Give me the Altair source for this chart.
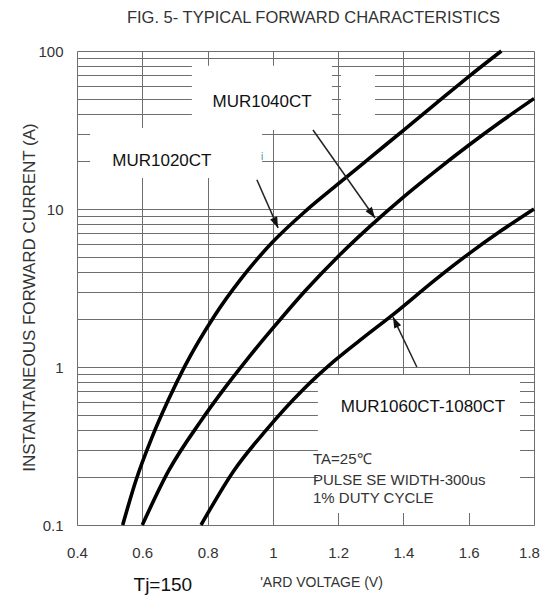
import math
import altair as alt
import pandas as pd

# ---------------- data ----------------
series_names = ["MUR1020CT", "MUR1040CT", "MUR1060CT-1080CT"]

v_1020 = [0.54, 0.58, 0.63, 0.68, 0.73, 0.82, 0.90, 1.00, 1.10, 1.20, 1.30, 1.40, 1.50, 1.60, 1.70]
i_1020 = [0.1, 0.19, 0.36, 0.62, 1.01, 2.09, 3.56, 6.2, 9.7, 14.4, 21.3, 31.5, 46.6, 68.9, 100]

v_1040 = [0.60, 0.68, 0.78, 0.85, 0.92, 1.00, 1.10, 1.20, 1.30, 1.40, 1.50, 1.60, 1.70, 1.80]
i_1040 = [0.1, 0.219, 0.457, 0.724, 1.11, 1.76, 3.05, 5.01, 7.85, 11.9, 17.5, 25.3, 35.9, 50]

v_1060 = [0.78, 0.88, 0.98, 1.09, 1.19, 1.28, 1.37, 1.50, 1.60, 1.70, 1.80]
i_1060 = [0.1, 0.22, 0.4, 0.71, 1.1, 1.55, 2.16, 3.6, 5.2, 7.3, 10]

x_ticks = [0.4, 0.6, 0.8, 1.0, 1.2, 1.4, 1.6, 1.8]
y_decades = [0.1, 1, 10, 100]

# label texts and anchor points (data units)
label_text = ["MUR1040CT", "MUR1020CT", "MUR1060CT-1080CT"]
label_v = [0.967, 0.66, 1.46]
label_i = [47.6, 20.1, 0.558]

note_text = ["TA=25\u2103", "PULSE SE WIDTH-300us", "1% DUTY CYCLE"]
note_v = [1.123, 1.123, 1.123]
note_i = [0.262, 0.193, 0.148]

# white label backgrounds (data units)
box_v1 = [0.752, 1.209, 0.44, 1.138]
box_v2 = [1.181, 1.313, 0.967, 1.757]
box_i1 = [80.6, 75.9, 32.6, 0.89]
box_i2 = [31.6, 37.7, 15.7, 0.119]

# arrows: start -> tip (data units)
arr_v1 = [0.951, 1.123, 1.441]
arr_i1 = [15.3, 31.6, 1.0]
arr_v2 = [1.016, 1.313, 1.368]
arr_i2 = [7.59, 8.77, 2.07]

tj_text = "Tj=150"
tj_v, tj_i = 0.663, 0.0415

title_text = "FIG. 5- TYPICAL FORWARD CHARACTERISTICS"
x_title = "'ARD VOLTAGE (V)"
y_title = "INSTANTANEOUS FORWARD CURRENT (A)"

# ---------------- build tables ----------------
rows = []
for name, vs, cs in zip(series_names, [v_1020, v_1040, v_1060], [i_1020, i_1040, i_1060]):
    for k, (v, c) in enumerate(zip(vs, cs)):
        rows.append({"series": name, "order": k, "V": v, "I": c})
curves = pd.DataFrame(rows)

W, H = 457, 474
XMIN, XMAX = 0.4, 1.8
YMIN, YMAX = 0.1, 100.0


def px(v):
    return (v - XMIN) / (XMAX - XMIN) * W


def py(c):
    return (math.log10(YMAX) - math.log10(c)) / (math.log10(YMAX) - math.log10(YMIN)) * H


arrows = pd.DataFrame({"v1": arr_v1, "i1": arr_i1, "v2": arr_v2, "i2": arr_i2})
arrows["ang"] = [
    (math.degrees(math.atan2(px(b) - px(a), -(py(d) - py(c)))) + 360) % 360
    for a, c, b, d in zip(arr_v1, arr_i1, arr_v2, arr_i2)
]

boxes = pd.DataFrame({"v1": box_v1, "v2": box_v2, "i1": box_i1, "i2": box_i2})
labels = pd.DataFrame({"t": label_text, "V": label_v, "I": label_i})
notes = pd.DataFrame({"t": note_text, "V": note_v, "I": note_i})
tj = pd.DataFrame({"t": [tj_text], "V": [tj_v], "I": [tj_i]})
glyph = pd.DataFrame({"t": ["i"], "V": [0.967], "I": [21.3]})

y_grid = sorted({round(m * 10 ** e, 6) for e in range(-1, 2) for m in range(1, 10)} | {100})

FONT = "Liberation Sans"
GRID = "#6e6e6e"

xs = alt.Scale(domain=[XMIN, XMAX], nice=False, zero=False)
ys = alt.Scale(type="log", domain=[YMIN, YMAX], nice=False)

x_axis = alt.Axis(
    values=x_ticks, format="~g", grid=True, gridColor=GRID, gridWidth=1, gridOpacity=1,
    tickSize=0, domain=False, labelFont=FONT, labelFontSize=15, labelColor="#333",
    labelPadding=20, labelOverlap=False, labelFlush=False,
    labelOffset={"condition": {"test": "datum.value > 1.79", "value": -5}, "value": 0},
    title=x_title, titleFont=FONT, titleFontSize=14, titleFontWeight="normal", titleColor="#333",
    titleX=244, titleY=57, titleAlign="center", titleBaseline="middle",
)
y_axis = alt.Axis(
    values=y_grid, format="~g", grid=True, gridColor=GRID, gridWidth=1, gridOpacity=1,
    labelExpr="indexof(%s, datum.value) >= 0 ? datum.label : ''" % str(y_decades),
    tickSize=0, domain=False, labelFont=FONT, labelFontSize=15, labelColor="#333",
    labelPadding=14, labelOverlap=False, labelFlush=False,
    title=y_title, titleFont=FONT, titleFontSize=17, titleFontWeight="normal", titleColor="#333",
    titleX=-48, titleY=246, titleAngle=270, titleAlign="center", titleBaseline="middle",
)

base_x = alt.X("V:Q", scale=xs, axis=x_axis)
base_y = alt.Y("I:Q", scale=ys, axis=y_axis)

rects = alt.Chart(boxes).mark_rect(color="white", opacity=1).encode(
    x=alt.X("v1:Q", scale=xs, axis=x_axis), x2="v2:Q",
    y=alt.Y("i1:Q", scale=ys, axis=y_axis), y2="i2:Q",
)

lines = alt.Chart(curves).mark_line(color="black", strokeWidth=3.6, interpolate="monotone").encode(
    x=base_x, y=base_y, detail="series:N", order="order:Q",
)

arrow_lines = alt.Chart(arrows).mark_rule(color="#222", strokeWidth=1.5).encode(
    x=alt.X("v1:Q", scale=xs), x2="v2:Q", y=alt.Y("i1:Q", scale=ys), y2="i2:Q",
)
arrow_heads = alt.Chart(arrows).mark_point(
    shape="M0,0L-0.7,2L0.7,2Z", filled=True, color="#111", opacity=1, size=120,
).encode(
    x=alt.X("v2:Q", scale=xs), y=alt.Y("i2:Q", scale=ys), angle=alt.Angle("ang:Q", scale=None),
)

label_marks = alt.Chart(labels).mark_text(
    font=FONT, fontSize=17, color="#111", align="center", baseline="middle",
).encode(x=alt.X("V:Q", scale=xs), y=alt.Y("I:Q", scale=ys), text="t:N")

note_marks = alt.Chart(notes).mark_text(
    font=FONT, fontSize=15, color="#333", align="left", baseline="middle",
).encode(x=alt.X("V:Q", scale=xs), y=alt.Y("I:Q", scale=ys), text="t:N")

tj_mark = alt.Chart(tj).mark_text(
    font=FONT, fontSize=19, color="#111", align="center", baseline="middle",
).encode(x=alt.X("V:Q", scale=xs), y=alt.Y("I:Q", scale=ys), text="t:N")

glyph_mark = alt.Chart(glyph).mark_text(
    font=FONT, fontSize=10, color="#3a9a8a", align="center", baseline="middle",
).encode(x=alt.X("V:Q", scale=xs), y=alt.Y("I:Q", scale=ys), text="t:N")

chart = alt.layer(
    rects, lines, arrow_lines, arrow_heads, label_marks, note_marks, tj_mark, glyph_mark
).properties(
    width=W, height=H,
    title=alt.TitleParams(
        title_text, font=FONT, fontSize=16.5, fontWeight="normal", color="#333",
        anchor="middle", dx=8, offset=17,
    ),
    autosize=alt.AutoSizeParams(type="none"),
    padding={"left": 69, "top": 43, "right": 8, "bottom": 75},
).configure_view(
    stroke="#3a3a3a", strokeWidth=2,
).configure(background="white")

chart.save("out.html", embed_options={"renderer": "svg", "actions": False})
